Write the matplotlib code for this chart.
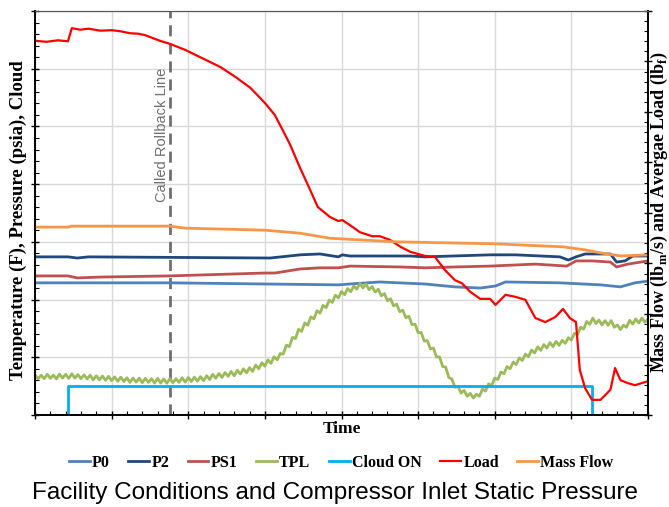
import numpy as np
import matplotlib
matplotlib.use('Agg')
import matplotlib.pyplot as plt
from matplotlib.ticker import MultipleLocator, NullFormatter

plt.rcParams['mathtext.fontset'] = 'custom'
plt.rcParams['mathtext.rm'] = 'Liberation Serif:bold'

# time axis (arbitrary units, no labels shown in the original)
tpl_t = np.arange(0, 80.01, 0.4)

p0_t = [0, 17.6, 30, 39.6, 41.1, 45.0, 50.9, 54.8, 58.1, 60.1, 61.4, 68.5, 73.8, 76.4, 78.3, 80]
p0 = [4.58, 4.58, 4.54, 4.51, 4.54, 4.61, 4.54, 4.44, 4.40, 4.47, 4.61, 4.58, 4.51, 4.44, 4.58, 4.64]

p2_t = [0, 4.3, 5.5, 7, 30.7, 34.6, 37.2, 39.6, 40.1, 41.1, 49.0, 50.9, 59.4, 62.7, 68.5, 69.6,
        70.6, 71.8, 75.1, 75.9, 77.0, 78.0, 80]
p2 = [5.48, 5.48, 5.44, 5.48, 5.44, 5.55, 5.58, 5.48, 5.55, 5.51, 5.51, 5.48, 5.55, 5.55, 5.48, 5.37,
      5.48, 5.58, 5.58, 5.30, 5.34, 5.51, 5.51]

ps1_t = [0, 4.3, 5.5, 8.5, 17.6, 30, 31.3, 34.6, 37.2, 39.6, 41.1, 47.7, 50.9, 54.8, 59.4, 65.3,
         69.4, 70.6, 72.7, 75.1, 75.9, 77.4, 80]
ps1 = [4.82, 4.82, 4.75, 4.78, 4.82, 4.92, 4.92, 5.06, 5.10, 5.10, 5.16, 5.13, 5.10, 5.13, 5.16, 5.23,
       5.16, 5.34, 5.34, 5.30, 5.13, 5.23, 5.34]

tpl = [1.39, 1.25, 1.38, 1.26, 1.41, 1.27, 1.38, 1.25, 1.42, 1.28,
       1.41, 1.27, 1.43, 1.28, 1.40, 1.26, 1.39, 1.25, 1.38, 1.22,
       1.36, 1.22, 1.35, 1.20, 1.34, 1.19, 1.32, 1.17, 1.31, 1.16,
       1.29, 1.13, 1.28, 1.14, 1.28, 1.12, 1.27, 1.13, 1.26, 1.11,
       1.27, 1.11, 1.25, 1.10, 1.26, 1.12, 1.26, 1.13, 1.29, 1.14,
       1.30, 1.16, 1.31, 1.17, 1.33, 1.19, 1.36, 1.23, 1.41, 1.27,
       1.44, 1.30, 1.47, 1.34, 1.51, 1.36, 1.55, 1.42, 1.60, 1.46,
       1.64, 1.51, 1.73, 1.60, 1.81, 1.69, 1.91, 1.79, 2.02, 1.91,
       2.13, 2.11, 2.42, 2.37, 2.69, 2.65, 2.97, 2.90, 3.19, 3.11,
       3.40, 3.33, 3.61, 3.53, 3.80, 3.72, 3.98, 3.90, 4.15, 4.06,
       4.28, 4.17, 4.38, 4.27, 4.47, 4.36, 4.56, 4.40, 4.54, 4.34,
       4.45, 4.26, 4.36, 4.13, 4.21, 3.96, 4.03, 3.78, 3.84, 3.58,
       3.63, 3.37, 3.42, 3.13, 3.15, 2.85, 2.86, 2.56, 2.58, 2.29,
       2.32, 2.01, 2.01, 1.68, 1.66, 1.30, 1.25, 0.96, 0.99, 0.76,
       0.85, 0.65, 0.75, 0.59, 0.72, 0.65, 0.90, 0.83, 1.08, 1.02,
       1.28, 1.23, 1.49, 1.43, 1.68, 1.60, 1.83, 1.75, 1.98, 1.89,
       2.11, 2.02, 2.25, 2.15, 2.36, 2.24, 2.44, 2.32, 2.51, 2.37,
       2.55, 2.41, 2.59, 2.48, 2.68, 2.60, 2.83, 2.78, 3.04, 2.98,
       3.24, 3.14, 3.36, 3.17, 3.29, 3.12, 3.27, 3.11, 3.27, 3.04,
       3.12, 2.96, 3.11, 3.04, 3.28, 3.15, 3.33, 3.19, 3.36, 3.21,
       3.33]

cloud_t = [0, 4.3, 4.3, 72.7, 72.7, 80]
cloud = [0, 0, 1, 1, 0, 0]

load_t = [0, 1.5, 3, 4.3, 4.8, 5.9, 7, 8.5, 10, 11.1, 12.4, 13.5, 14.4, 16.3, 17.6, 19.6, 21.5,
          24.2, 26.1, 28.1, 30.0, 31.3, 32.3, 33.3, 34.6, 35.9, 36.9, 38.5, 39.6, 40.1, 41.1,
          42.4, 44.0, 45.0, 46.3, 47.7, 49.0, 50.9, 52.2, 53.5, 54.8, 55.7, 56.8, 58.1, 59.4,
          60.1, 61.4, 62.7, 64.0, 65.3, 66.6, 67.9, 68.9, 69.8, 70.6, 71.1, 71.8, 72.7, 73.8,
          75.1, 75.7, 76.4, 77.4, 78.3, 80]
load = [74.1, 73.9, 74.2, 74.0, 76.6, 76.3, 76.5, 76.1, 76.2, 76.0, 75.6, 75.5, 75.2, 74.1, 73.5,
        72.3, 70.9, 68.9, 67.0, 64.8, 61.8, 59.4, 56.5, 53.5, 48.9, 44.6, 41.2, 39.2, 38.4, 38.6,
        37.6, 36.2, 35.4, 35.4, 34.7, 33.3, 32.3, 31.5, 31.3, 28.7, 26.7, 26.1, 24.4, 23.0, 23.0,
        21.8, 23.8, 23.4, 22.8, 19.2, 18.4, 19.4, 21.0, 19.2, 18.4, 8.9, 5.3, 3.0, 3.0,
        5.0, 9.3, 6.9, 6.3, 5.9, 6.7]

mflow_t = [0, 4.3, 4.8, 17.6, 19.6, 30.0, 34.6, 38.5, 47.0, 59.9, 68.9, 71.8, 73.8, 76.4, 80]
mflow = [37.2, 37.2, 37.4, 37.4, 37.0, 36.6, 36.0, 35.0, 34.3, 33.9, 33.3, 32.7, 32.1, 31.5, 31.7]

rollback_t = 17.6

fig = plt.figure(figsize=(6.69, 5.07), dpi=100)
ax = fig.add_axes([35 / 669, 92 / 507, 613 / 669, 404 / 507])
ax2 = ax.twinx()

l_p0, = ax.plot(p0_t, p0, color='#4F81BD', lw=2, label='P0')
l_p2, = ax.plot(p2_t, p2, color='#1F497D', lw=2, label='P2')
l_ps1, = ax.plot(ps1_t, ps1, color='#C0504D', lw=2, label='PS1')
l_tpl, = ax.plot(tpl_t, tpl, color='#9BBB59', lw=2, label='TPL')
l_cl, = ax.plot(cloud_t, cloud, color='#00B0F0', lw=2, label='Cloud ON')
l_load, = ax2.plot(load_t, load, color='#FF0000', lw=1.6, label='Load')
l_mf, = ax2.plot(mflow_t, mflow, color='#F79646', lw=2, label='Mass Flow')

ax.axvline(rollback_t, color='#707070', lw=2, ls=(0, (4, 2.5)), zorder=1)
ax.text(rollback_t - 1.0, 9.7, 'Called Rollback Line', rotation=90, ha='center', va='center',
        color='#707070', fontsize=10.5, family='Liberation Sans')

ax.set_xlim(0, 80)
ax.set_ylim(0, 14)
ax2.set_ylim(0, 80)
ax.xaxis.set_major_locator(MultipleLocator(10))
ax.xaxis.set_minor_locator(MultipleLocator(2))
ax.yaxis.set_major_locator(MultipleLocator(2))
ax.yaxis.set_minor_locator(MultipleLocator(0.4))
ax2.yaxis.set_major_locator(MultipleLocator(10))
ax2.yaxis.set_minor_locator(MultipleLocator(2))
for a in (ax, ax2):
    a.xaxis.set_major_formatter(NullFormatter())
    a.yaxis.set_major_formatter(NullFormatter())
    a.tick_params(which='major', direction='inout', length=6, width=1)
    a.tick_params(which='minor', direction='in', length=3, width=0.8)
    for s in ('left', 'right', 'bottom'):
        a.spines[s].set_linewidth(1.2)
    a.spines['top'].set_color('#595959')
ax.grid(True, which='major', color='#D9D9D9', lw=1)
ax.set_axisbelow(True)

lbl = dict(family='Liberation Serif', weight='bold')
ax.set_xlabel('Time', labelpad=-2, fontsize=12.5, **lbl)
fig.text(18 / 669, 1 - 220 / 507, 'Temperature (F), Pressure (psia), Cloud', rotation=90,
         ha='center', va='center', fontsize=13.5, **lbl)
fig.text(659 / 669, 1 - 212 / 507,
         r'Mass Flow (lb$_\mathrm{m}$/s) and Avergae Load (lb$_\mathrm{f}$)', rotation=90,
         ha='center', va='center', fontsize=13, **lbl)

fig.legend(handles=[l_p0, l_p2, l_ps1, l_tpl, l_cl, l_load, l_mf], loc='center',
           bbox_to_anchor=(0.51, 0.087), ncol=7, frameon=False, handlelength=1.3,
           handletextpad=0.15, columnspacing=1.15,
           prop=dict(family='Liberation Serif', weight='bold', size=11.5))

fig.text(0.5, 1 - 493 / 507, 'Facility Conditions and Compressor Inlet Static Pressure',
         ha='center', va='center', family='Liberation Sans', fontsize=17.5)

fig.savefig('out.png', dpi=100)
